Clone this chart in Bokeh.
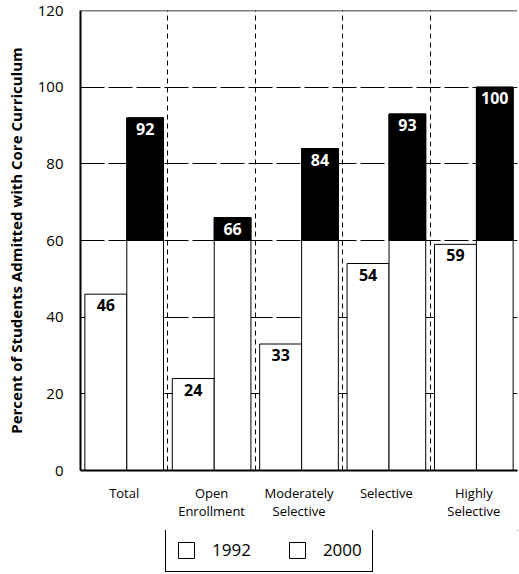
from bokeh.plotting import figure
from bokeh.layouts import column
from bokeh.models import FixedTicker, Span, Legend, LegendItem, Range1d
from bokeh.embed import file_html
from bokeh.resources import INLINE
from bokeh.core.properties import value

categories = ["Total", "Open\nEnrollment", "Moderately\nSelective", "Selective", "Highly\nSelective"]
v1992 = [46, 24, 33, 54, 59]
v2000 = [92, 66, 84, 93, 100]
years = ["1992", "2000"]
y_ticks = [0, 20, 40, 60, 80, 100, 120]

FONT = "Open Sans"
SHADE_FROM = 60  # in the scanned original, the dark fill shows only above this level

idx = list(range(len(categories)))
x92 = [i + 0.29 for i in idx]
x00 = [i + 0.74 for i in idx]

p = figure(width=519, height=530, x_range=Range1d(0, len(categories)), y_range=Range1d(0, 120),
           output_backend="svg", toolbar_location=None,
           min_border_left=80, min_border_right=2, min_border_top=10, min_border_bottom=60)
p.outline_line_color = None
p.background_fill_color = "white"

r92 = p.vbar(x=x92, top=v1992, bottom=0, width=0.48, fill_color="white", line_color="black", line_width=1)
r00 = p.vbar(x=x00, top=v2000, bottom=0, width=0.42, fill_color="white", line_color="black", line_width=1)
p.vbar(x=x00, top=v2000, bottom=SHADE_FROM, width=0.42, fill_color="black", line_color="black", line_width=1)

p.text(x=x92, y=v1992, text=[str(v) for v in v1992], text_align="center", text_baseline="top",
       y_offset=5, text_font=value(FONT), text_font_style="bold", text_font_size="16px", text_color="black")
p.text(x=x00, y=v2000, text=[str(v) for v in v2000], text_align="center", text_baseline="top",
       y_offset=5, text_font=value(FONT), text_font_style="bold", text_font_size="16px", text_color="white")

p.add_layout(Span(location=120, dimension="width", line_color="black", line_width=1.5))

# axes
p.yaxis.ticker = FixedTicker(ticks=y_ticks)
p.yaxis.major_tick_line_color = None
p.yaxis.minor_tick_line_color = None
p.yaxis.axis_line_width = 2
p.yaxis.axis_line_color = "black"
p.yaxis.major_label_standoff = 11
p.yaxis.major_label_text_font = FONT
p.yaxis.major_label_text_font_size = "15px"
p.yaxis.major_label_text_color = "black"
p.yaxis.axis_label = "Percent of Students Admitted with Core Curriculum"
p.yaxis.axis_label_text_font = FONT
p.yaxis.axis_label_text_font_style = "bold"
p.yaxis.axis_label_text_font_size = "15px"
p.yaxis.axis_label_text_color = "black"
p.yaxis.axis_label_standoff = 9

tick_pos = [i + 0.5 for i in idx]
p.xaxis.ticker = FixedTicker(ticks=tick_pos)
p.xaxis.major_label_overrides = {t: c for t, c in zip(tick_pos, categories)}
p.xaxis.major_tick_line_color = None
p.xaxis.minor_tick_line_color = None
p.xaxis.axis_line_width = 2
p.xaxis.axis_line_color = "black"
p.xaxis.major_label_standoff = 7
p.xaxis.major_label_text_font = FONT
p.xaxis.major_label_text_font_size = "13px"
p.xaxis.major_label_text_color = "black"
p.xaxis.major_label_text_line_height = 1.0

# grids
p.ygrid.ticker = FixedTicker(ticks=[20, 40, 60, 80, 100])
p.ygrid.grid_line_color = "black"
p.ygrid.grid_line_width = 1
p.ygrid.grid_line_dash = "24 4"
p.xgrid.ticker = FixedTicker(ticks=[1, 2, 3, 4, 5])
p.xgrid.grid_line_color = "black"
p.xgrid.grid_line_width = 1
p.xgrid.grid_line_dash = "5 4"

# legend in its own strip below the chart (its frame is aligned with the chart's frame)
lf = figure(width=519, height=44, x_range=Range1d(0, 1), y_range=Range1d(0, 1),
            output_backend="svg", toolbar_location=None, min_border=0,
            x_axis_location=None, y_axis_location=None)
lf.outline_line_color = None
lf.grid.visible = False
l92 = lf.vbar(x=[5], top=[5], bottom=[4], width=0.1, fill_color="white", line_color="black", line_width=1)
l00 = lf.vbar(x=[5], top=[5], bottom=[4], width=0.1, fill_color="white", line_color="black", line_width=1)
legend = Legend(items=[LegendItem(label=years[0], renderers=[l92]),
                       LegendItem(label=years[1], renderers=[l00])],
                location=(85, 2), orientation="horizontal",
                border_line_color="black", border_line_width=1.5, border_line_alpha=1,
                padding=10, spacing=36, glyph_width=20, glyph_height=20, label_standoff=16,
                label_text_font=FONT, label_text_font_size="17px", label_text_color="black",
                background_fill_color="white", background_fill_alpha=1, margin=0)
lf.add_layout(legend, "center")

layout = column(p, lf, spacing=0)
open("out.html", "w").write(file_html(layout, INLINE))
